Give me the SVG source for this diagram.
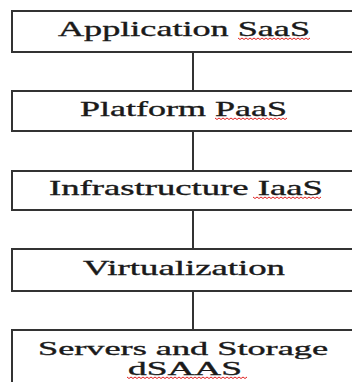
<svg xmlns="http://www.w3.org/2000/svg" width="352" height="382" viewBox="0 0 352 382">
<style>
.box{fill:#fff;stroke:#333;stroke-width:2}
.lbl{font-family:"Liberation Serif","Times New Roman",serif;font-size:21px;fill:#1a1a1a;text-anchor:start;stroke:#1a1a1a;stroke-width:0.35}
.sm{font-size:19px}
.sq{fill:none;stroke:#e02020;stroke-width:1}
.con{stroke:#333;stroke-width:2;fill:none}
</style>
<rect width="352" height="382" fill="#fff"/>
<g id="connectors">
<line class="con" x1="193" y1="52" x2="193" y2="91"/>
<line class="con" x1="193" y1="131" x2="193" y2="171"/>
<line class="con" x1="193" y1="210" x2="193" y2="249"/>
<line class="con" x1="193" y1="291" x2="193" y2="330"/>
</g>
<g id="saas">
<rect class="box" x="12" y="11" width="360" height="41"/>
<text class="lbl" x="58" y="36" textLength="252" lengthAdjust="spacingAndGlyphs">Application SaaS</text>
<path class="sq" d="M238 38 l2 1.5 l2 -1.5 l2 1.5 l2 -1.5 l2 1.5 l2 -1.5 l2 1.5 l2 -1.5 l2 1.5 l2 -1.5 l2 1.5 l2 -1.5 l2 1.5 l2 -1.5 l2 1.5 l2 -1.5 l2 1.5 l2 -1.5 l2 1.5 l2 -1.5 l2 1.5 l2 -1.5 l2 1.5 l2 -1.5 l2 1.5 l2 -1.5 l2 1.5 l2 -1.5 l2 1.5 l2 -1.5 l2 1.5 l2 -1.5 l2 1.5 l2 -1.5 l2 1.5 l2 -1.5"/>
</g>
<g id="paas">
<rect class="box" x="12" y="91" width="360" height="40"/>
<text class="lbl" x="80" y="116" textLength="207" lengthAdjust="spacingAndGlyphs">Platform PaaS</text>
<path class="sq" d="M215 118 l2 1.5 l2 -1.5 l2 1.5 l2 -1.5 l2 1.5 l2 -1.5 l2 1.5 l2 -1.5 l2 1.5 l2 -1.5 l2 1.5 l2 -1.5 l2 1.5 l2 -1.5 l2 1.5 l2 -1.5 l2 1.5 l2 -1.5 l2 1.5 l2 -1.5 l2 1.5 l2 -1.5 l2 1.5 l2 -1.5 l2 1.5 l2 -1.5 l2 1.5 l2 -1.5 l2 1.5 l2 -1.5 l2 1.5 l2 -1.5 l2 1.5 l2 -1.5 l2 1.5 l2 -1.5"/>
</g>
<g id="iaas">
<rect class="box" x="12" y="171" width="360" height="39"/>
<text class="lbl" x="49" y="195" textLength="274" lengthAdjust="spacingAndGlyphs">Infrastructure IaaS</text>
<path class="sq" d="M253 197 l2 1.5 l2 -1.5 l2 1.5 l2 -1.5 l2 1.5 l2 -1.5 l2 1.5 l2 -1.5 l2 1.5 l2 -1.5 l2 1.5 l2 -1.5 l2 1.5 l2 -1.5 l2 1.5 l2 -1.5 l2 1.5 l2 -1.5 l2 1.5 l2 -1.5 l2 1.5 l2 -1.5 l2 1.5 l2 -1.5 l2 1.5 l2 -1.5 l2 1.5 l2 -1.5 l2 1.5 l2 -1.5 l2 1.5 l2 -1.5 l2 1.5 l2 -1.5"/>
</g>
<g id="virtualization">
<rect class="box" x="12" y="249" width="360" height="42"/>
<text class="lbl" x="83" y="275" textLength="202" lengthAdjust="spacingAndGlyphs">Virtualization</text>
</g>
<g id="dsaas">
<rect class="box" x="12" y="330" width="360" height="70"/>
<text class="lbl sm" x="38" y="355" textLength="290" lengthAdjust="spacingAndGlyphs">Servers and Storage</text>
<text class="lbl sm" x="128" y="375" textLength="114" lengthAdjust="spacingAndGlyphs">dSAAS</text>
<path class="sq" d="M127 377 l2 1.5 l2 -1.5 l2 1.5 l2 -1.5 l2 1.5 l2 -1.5 l2 1.5 l2 -1.5 l2 1.5 l2 -1.5 l2 1.5 l2 -1.5 l2 1.5 l2 -1.5 l2 1.5 l2 -1.5 l2 1.5 l2 -1.5 l2 1.5 l2 -1.5 l2 1.5 l2 -1.5 l2 1.5 l2 -1.5 l2 1.5 l2 -1.5 l2 1.5 l2 -1.5 l2 1.5 l2 -1.5 l2 1.5 l2 -1.5 l2 1.5 l2 -1.5 l2 1.5 l2 -1.5 l2 1.5 l2 -1.5 l2 1.5 l2 -1.5 l2 1.5 l2 -1.5 l2 1.5 l2 -1.5 l2 1.5 l2 -1.5 l2 1.5 l2 -1.5 l2 1.5 l2 -1.5 l2 1.5 l2 -1.5 l2 1.5 l2 -1.5 l2 1.5 l2 -1.5 l2 1.5 l2 -1.5 l2 1.5 l2 -1.5"/>
</g>
</svg>
